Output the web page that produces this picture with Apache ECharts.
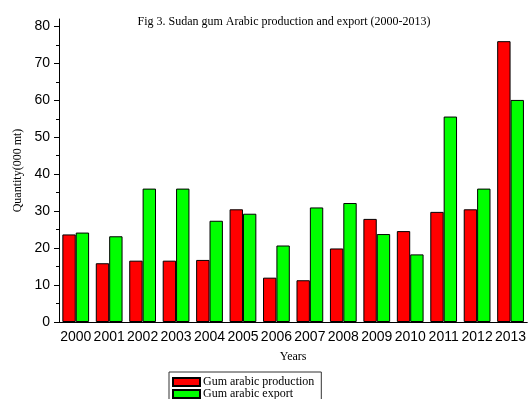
<!DOCTYPE html>
<html>
<head>
<meta charset="utf-8">
<script src="https://cdn.jsdelivr.net/npm/echarts@6/dist/echarts.min.js"></script>
<style>html,body{margin:0;padding:0;background:#fff;}#c{width:529px;height:399px;}</style>
</head>
<body>
<div id="c"></div>
<script>
var years = ['2000','2001','2002','2003','2004','2005','2006','2007','2008','2009','2010','2011','2012','2013'];
var production = [23.7, 15.9, 16.6, 16.6, 16.8, 30.5, 12.0, 11.3, 19.9, 27.9, 24.6, 29.8, 30.5, 76.0];
var exportData = [24.2, 23.2, 36.1, 36.1, 27.4, 29.3, 20.7, 31.0, 32.2, 23.8, 18.3, 55.6, 36.1, 60.1];
var yTicks = [0, 10, 20, 30, 40, 50, 60, 70, 80];

var chart = echarts.init(document.getElementById('c'), null, {renderer: 'canvas'});
var serif = 'Liberation Serif';
var sans = 'Liberation Sans';
var gridBox = {left: 59, top: 19, width: 472, bottom: 77};
chart.setOption({
  animation: false,
  backgroundColor: '#fff',
  title: {
    text: 'Fig 3. Sudan gum Arabic production and export (2000-2013)',
    left: 279, top: 11, textAlign: 'center',
    textStyle: {fontFamily: serif, fontSize: 12, fontWeight: 'normal', color: '#000'}
  },
  legend: {
    orient: 'horizontal', left: 169, top: 372, width: 140,
    itemWidth: 27, itemHeight: 8, itemGap: 0,
    padding: [4, 7, 4, 3],
    borderColor: '#333', borderWidth: 1,
    icon: 'rect',
    textStyle: {fontFamily: serif, fontSize: 12, lineHeight: 11, color: '#000', padding: [0, 0, 0, -2]},
    data: ['Gum arabic production', 'Gum arabic export']
  },
  grid: [
    Object.assign({}, gridBox),
    Object.assign({}, gridBox)
  ],
  xAxis: [{
    type: 'category', data: years, gridIndex: 0,
    name: 'Years', nameLocation: 'middle', nameGap: 29,
    nameTextStyle: {fontFamily: serif, fontSize: 12, color: '#000'},
    axisLine: {lineStyle: {color: '#000', width: 1}},
    axisTick: {alignWithLabel: true, length: 5, lineStyle: {color: '#000'}},
    axisLabel: {fontFamily: sans, fontSize: 14, color: '#000', margin: 8, interval: 0}
  }, {
    type: 'category', data: years, gridIndex: 1,
    axisLine: {show: false},
    axisTick: {alignWithLabel: false, length: 3, lineStyle: {color: '#000'}},
    axisLabel: {show: false}
  }],
  yAxis: [{
    type: 'value', min: 0, max: 82, interval: 10, gridIndex: 0,
    name: 'Quantity(000 mt)', nameLocation: 'middle', nameGap: 35,
    nameTextStyle: {fontFamily: serif, fontSize: 12, color: '#000'},
    axisLine: {show: true, lineStyle: {color: '#000', width: 1}},
    axisTick: {show: true, length: 5, customValues: yTicks, lineStyle: {color: '#000'}},
    minorTick: {show: true, splitNumber: 2, length: 3, lineStyle: {color: '#000'}},
    splitLine: {show: false},
    axisLabel: {fontFamily: sans, fontSize: 14, color: '#000', margin: 9, customValues: yTicks}
  }, {
    type: 'value', min: 0, max: 82, gridIndex: 1, show: false
  }],
  series: [{
    name: 'Gum arabic production', type: 'bar', data: production,
    barWidth: '40%', barGap: '0%',
    itemStyle: {color: '#ff0000', borderColor: '#000', borderWidth: 1}
  }, {
    name: 'Gum arabic export', type: 'bar', data: exportData,
    barWidth: '40%', barGap: '0%',
    itemStyle: {color: '#00ff00', borderColor: '#000', borderWidth: 1}
  }]
});
</script>
</body>
</html>
